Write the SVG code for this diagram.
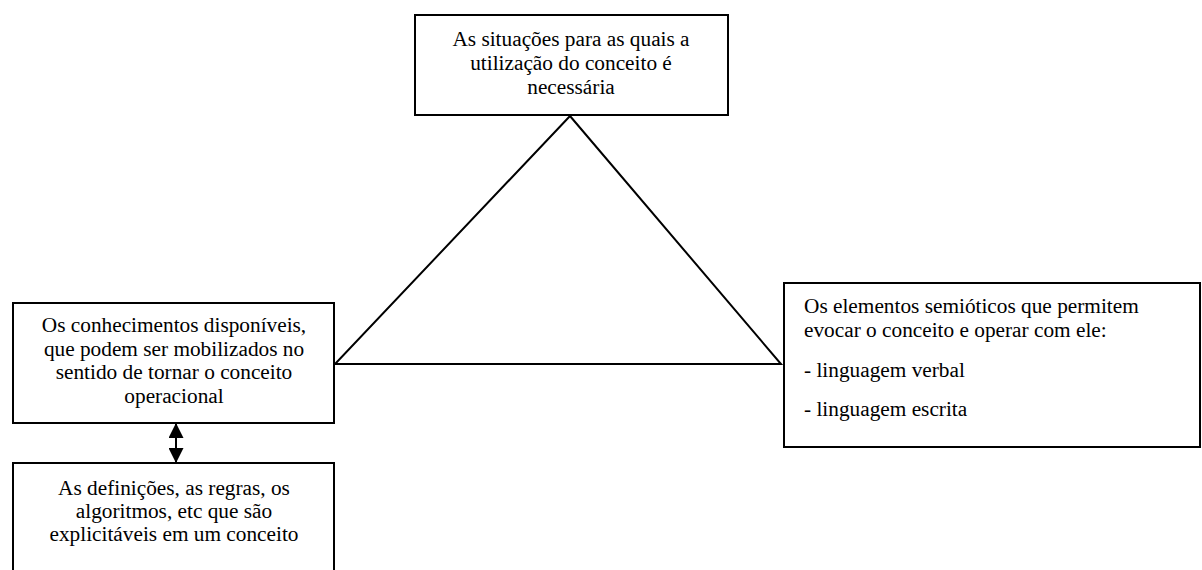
<svg xmlns="http://www.w3.org/2000/svg" width="1202" height="570" viewBox="0 0 1202 570">
<style>
.box{fill:#fff;stroke:#000;stroke-width:2}
.t{font-family:'Liberation Serif','Times New Roman',serif;font-size:21.3px;fill:#000}
.c{text-anchor:middle}
.ln{stroke:#000;stroke-width:2;fill:none}
</style>
<defs>
<marker id="ah" viewBox="0 0 15 15" refX="15" refY="7.5" markerWidth="15" markerHeight="15" orient="auto-start-reverse" markerUnits="userSpaceOnUse">
<path d="M0,0 L15,7.5 L0,15 Z" fill="#000"/>
</marker>
</defs>
<g id="connectors">
<polyline class="ln" points="570,116 335,364 781,364 570,116"/>
<line class="ln" x1="176" y1="423" x2="176" y2="463" marker-start="url(#ah)" marker-end="url(#ah)"/>
</g>
<g id="n-situacoes">
<rect class="box" x="415" y="15" width="313" height="100"/>
<text class="t c" x="571" y="46">As situações para as quais a</text>
<text class="t c" x="571" y="70">utilização do conceito é</text>
<text class="t c" x="571" y="94">necessária</text>
</g>
<g id="n-conhecimentos">
<rect class="box" x="13" y="303" width="321" height="120"/>
<text class="t c" x="174" y="332">Os conhecimentos disponíveis,</text>
<text class="t c" x="174" y="356">que podem ser mobilizados no</text>
<text class="t c" x="174" y="379">sentido de tornar o conceito</text>
<text class="t c" x="174" y="403">operacional</text>
</g>
<g id="n-definicoes">
<rect class="box" x="13" y="463" width="321" height="120"/>
<text class="t c" x="174" y="495">As definições, as regras, os</text>
<text class="t c" x="174" y="518">algoritmos, etc que são</text>
<text class="t c" x="174" y="541">explicitáveis em um conceito</text>
</g>
<g id="n-semioticos">
<rect class="box" x="784" y="283" width="416" height="164"/>
<text class="t" x="804" y="313">Os elementos semióticos que permitem</text>
<text class="t" x="804" y="337">evocar o conceito e operar com ele:</text>
<text class="t" x="804" y="377">- linguagem verbal</text>
<text class="t" x="804" y="416">- linguagem escrita</text>
</g>
</svg>
